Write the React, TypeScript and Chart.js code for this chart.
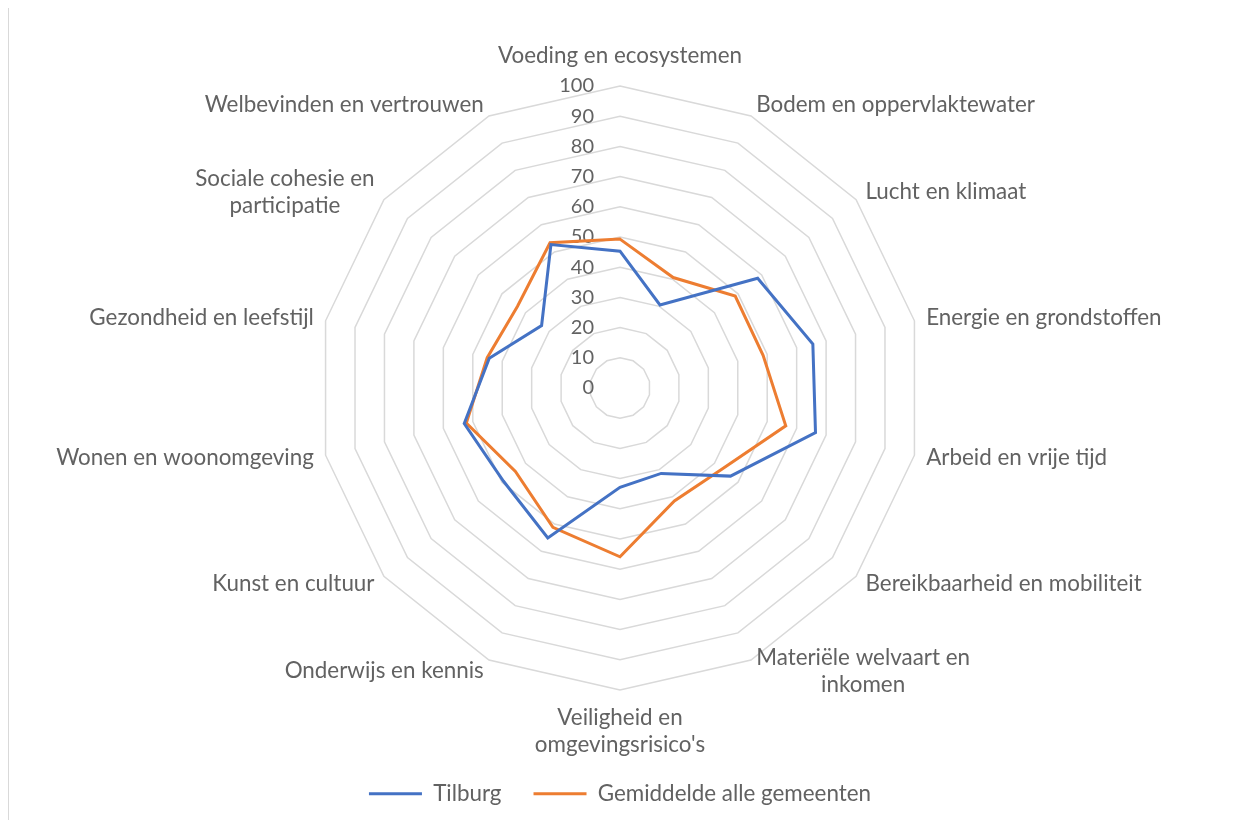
import React, { useEffect, useRef } from 'react';
import { Chart, registerables } from 'chart.js';

Chart.register(...registerables);

const CATEGORIES: (string | string[])[] = [
  'Voeding en ecosystemen',
  'Bodem en oppervlaktewater',
  'Lucht en klimaat',
  'Energie en grondstoffen',
  'Arbeid en vrije tijd',
  'Bereikbaarheid en mobiliteit',
  ['Materiële welvaart en', 'inkomen'],
  ['Veiligheid en', "omgevingsrisico's"],
  'Onderwijs en kennis',
  'Kunst en cultuur',
  'Wonen en woonomgeving',
  'Gezondheid en leefstijl',
  ['Sociale cohesie en', 'participatie'],
  'Welbevinden en vertrouwen',
];

const TILBURG = [45.3, 30.5, 58.3, 65.5, 66.4, 46.8, 31.4, 32.9, 55.1, 49.4, 52.9, 44.4, 33.2, 52.7];
const GEMIDDELDE = [49.3, 40.6, 48.8, 48.6, 56.3, 43.1, 41.5, 55.9, 51.2, 44.3, 52.2, 45.1, 43.4, 53.4];
const TICKS = [0, 10, 20, 30, 40, 50, 60, 70, 80, 90, 100];

const SERIES_NAMES = ['Tilburg', 'Gemiddelde alle gemeenten'];
const SERIES_COLORS = ['#4472C4', '#ED7D31'];

const FONT = 'Lato, "Open Sans", sans-serif';
const TEXT_COLOR = '#626262';
const LABEL_SIZE = 22.4;
const TICK_SIZE = 20;
const LEGEND_SIZE = 22.4;
const LINE_H = 27;
const LABEL_GAP = 12;

const excelLabels = {
  id: 'excelLabels',
  beforeDatasetsDraw(chart: any) {
    const scale = chart.scales.r;
    const ctx = chart.ctx as CanvasRenderingContext2D;
    ctx.save();
    ctx.fillStyle = TEXT_COLOR;
    // radial tick labels
    ctx.font = `${TICK_SIZE}px ${FONT}`;
    ctx.textAlign = 'right';
    ctx.textBaseline = 'middle';
    TICKS.forEach((v) => {
      const d = scale.getDistanceFromCenterForValue(v);
      ctx.fillText(String(v), scale.xCenter - 26, scale.yCenter - d);
    });
    // point labels
    ctx.font = `${LABEL_SIZE}px ${FONT}`;
    ctx.textAlign = 'center';
    const outer = scale.getDistanceFromCenterForValue(100) + LABEL_GAP;
    CATEGORIES.forEach((lab, i) => {
      const lines = Array.isArray(lab) ? lab : [lab];
      const p = scale.getPointPosition(i, outer);
      const s = (p.x - scale.xCenter) / outer;
      const widths = lines.map((l) => ctx.measureText(l).width);
      const bw = Math.max(...widths);
      const bh = lines.length * LINE_H;
      let cx: number;
      let top: number;
      if (Math.abs(s) < 0.05) {
        cx = p.x;
        if (p.y < scale.yCenter) top = p.y - 18 - bh / 2;
        else top = p.y + 2;
      } else {
        cx = s > 0 ? p.x + bw / 2 : p.x - bw / 2;
        top = p.y - bh / 2;
      }
      lines.forEach((l, k) => {
        ctx.fillText(l, cx, top + LINE_H * k + LINE_H / 2);
      });
    });
    ctx.restore();
  },
};

export default function App() {
  const ref = useRef<HTMLCanvasElement>(null);
  useEffect(() => {
    const chart = new Chart(ref.current as HTMLCanvasElement, {
      type: 'radar',
      data: {
        labels: CATEGORIES as any,
        datasets: [
          {
            label: SERIES_NAMES[0],
            data: TILBURG,
            borderColor: SERIES_COLORS[0],
            backgroundColor: SERIES_COLORS[0],
            borderWidth: 3,
            pointRadius: 0,
            fill: false,
          },
          {
            label: SERIES_NAMES[1],
            data: GEMIDDELDE,
            borderColor: SERIES_COLORS[1],
            backgroundColor: SERIES_COLORS[1],
            borderWidth: 3,
            pointRadius: 0,
            fill: false,
          },
        ],
      },
      options: {
        responsive: false,
        animation: false,
        layout: { padding: { left: 309, right: 307, top: 20, bottom: 4 } },
        plugins: {
          tooltip: { enabled: false },
          legend: {
            position: 'bottom',
            labels: {
              boxWidth: 53,
              boxHeight: 3,
              padding: 32,
              color: TEXT_COLOR,
              font: { family: FONT, size: LEGEND_SIZE },
              generateLabels: (c: any) =>
                c.data.datasets.map((ds: any, i: number) => ({
                  text: ds.label,
                  fillStyle: ds.borderColor,
                  strokeStyle: ds.borderColor,
                  lineWidth: 0,
                  hidden: false,
                  datasetIndex: i,
                  fontColor: TEXT_COLOR,
                })),
            },
          },
        },
        scales: {
          r: {
            min: 0,
            max: 100,
            ticks: { display: false, stepSize: 10 },
            pointLabels: { display: false },
            angleLines: { display: false },
            grid: { color: '#d9d9d9', lineWidth: 1.5 },
          },
        },
      } as any,
      plugins: [excelLabels],
    });
    return () => chart.destroy();
  }, []);
  return (
    <div
      style={{
        width: 1222,
        height: 814,
        marginTop: -2,
        borderTop: '1px solid #d9d9d9',
        borderLeft: '1px solid #d9d9d9',
        borderRight: '1px solid #d9d9d9',
        boxSizing: 'border-box',
        background: '#fff',
      }}
    >
      <canvas ref={ref} width={1220} height={812} style={{ display: 'block' }} />
    </div>
  );
}
